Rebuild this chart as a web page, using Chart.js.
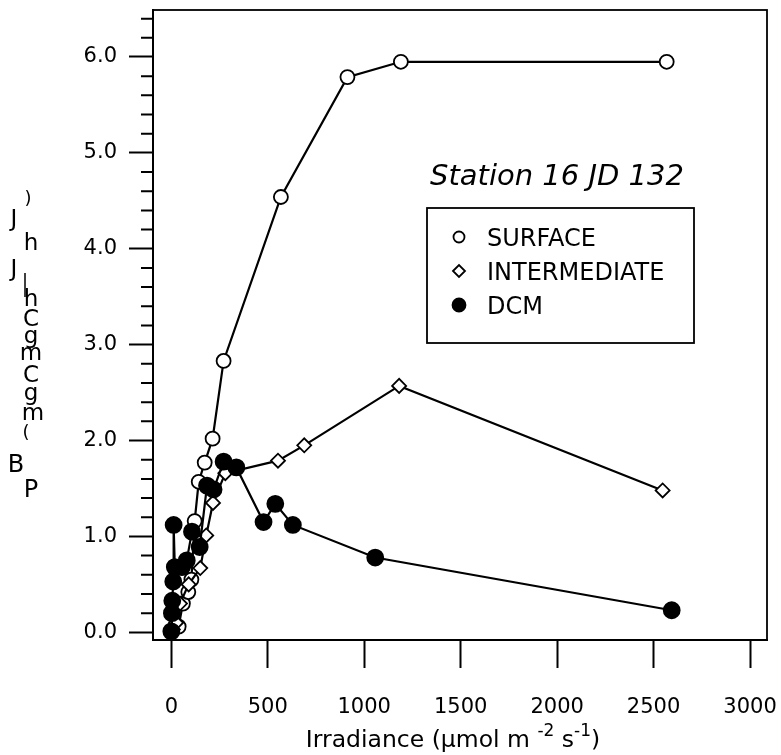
<!DOCTYPE html>
<html>
<head>
<meta charset="utf-8">
<script src="https://cdn.jsdelivr.net/npm/chart.js@4.4.1/dist/chart.umd.min.js"></script>
<style>
  html, body { margin: 0; background: #fff; }
  canvas { display: block; }
</style>
</head>
<body>
<canvas id="pe" width="781" height="755"></canvas>
<script>
// P vs E curves, station 16, JD 132
const surfaceIrr = [5, 38, 60, 88, 104, 121, 142, 173, 214, 271, 568, 913, 1190, 2568];
const surfaceP   = [0.02, 0.06, 0.30, 0.42, 0.55, 1.16, 1.57, 1.77, 2.02, 2.83, 4.54, 5.79, 5.95, 5.95];

const interIrr = [8, 25, 45, 90, 150, 181, 216, 280, 553, 689, 1181, 2547];
const interP   = [0.03, 0.10, 0.30, 0.50, 0.67, 1.01, 1.35, 1.66, 1.79, 1.95, 2.57, 1.48];

const dcmIrr = [0, 3, 5, 10, 12, 18, 55, 80, 107, 147, 185, 219, 271, 337, 478, 539, 630, 1057, 2594];
const dcmP   = [0.01, 0.20, 0.33, 0.53, 1.12, 0.68, 0.68, 0.75, 1.05, 0.89, 1.53, 1.49, 1.78, 1.72, 1.15, 1.34, 1.12, 0.78, 0.23];

const xTicks = [0, 500, 1000, 1500, 2000, 2500, 3000];
const yTicks = [0, 1, 2, 3, 4, 5, 6];
const yMinor = [0.2, 0.4, 0.6, 0.8, 1.2, 1.4, 1.6, 1.8, 2.2, 2.4, 2.6, 2.8, 3.2, 3.4, 3.6, 3.8,
                4.2, 4.4, 4.6, 4.8, 5.2, 5.4, 5.6, 5.8, 6.2, 6.4];

const FONT = '"DejaVu Sans", sans-serif';
const pairs = (xs, ys) => xs.map((x, i) => ({ x, y: ys[i] }));

// box around the plot and the short unlabelled ticks on the y axis
const frame = {
  id: 'frame',
  beforeDatasetsDraw(chart) {
    const { ctx, chartArea: a, scales: { y } } = chart;
    ctx.save();
    ctx.strokeStyle = '#000';
    ctx.lineWidth = 1.8;
    ctx.strokeRect(a.left, a.top, a.right - a.left, a.bottom - a.top);
    ctx.lineWidth = 2;
    ctx.beginPath();
    yMinor.forEach(v => {
      const py = y.getPixelForValue(v);
      ctx.moveTo(a.left - 12, py);
      ctx.lineTo(a.left, py);
    });
    ctx.stroke();
    ctx.restore();
  }
};

// station title, boxed legend and axis titles
const labels = {
  id: 'labels',
  afterDraw(chart) {
    const { ctx } = chart;
    ctx.save();
    ctx.fillStyle = '#000';
    ctx.textBaseline = 'alphabetic';

    ctx.font = 'italic 29px ' + FONT;
    ctx.fillText('Station 16 JD 132', 430, 185);

    // legend
    ctx.strokeStyle = '#000';
    ctx.lineWidth = 1.8;
    ctx.strokeRect(427, 208, 267, 135);
    ctx.font = '24px ' + FONT;
    chart.data.datasets.forEach((ds, i) => {
      const cy = 237 + i * 34;
      ctx.save();
      ctx.fillStyle = ds.pointBackgroundColor;
      ctx.strokeStyle = '#000';
      ctx.lineWidth = 1.8;
      Chart.helpers.drawPoint(ctx, { pointStyle: ds.pointStyle, radius: ds.legendRadius, borderWidth: 1.8, rotation: 0 }, 459, cy);
      ctx.restore();
      ctx.fillText(ds.label, 487, cy + 9);
    });

    // x title with superscripts
    const parts = [
      ['Irradiance (\u00b5mol m ', 0], ['-2', 1], [' s', 0], ['-1', 1], [')', 0]
    ];
    const big = '23.5px ' + FONT, small = '17px ' + FONT;
    let w = 0;
    parts.forEach(([t, s]) => { ctx.font = s ? small : big; w += ctx.measureText(t).width; });
    let x = 453 - w / 2;
    parts.forEach(([t, s]) => {
      ctx.font = s ? small : big;
      ctx.fillText(t, x, s ? 736 : 747);
      x += ctx.measureText(t).width;
    });

    // y title, set as upright stacked glyphs
    const glyphs = [
      [')', 28, 204, 18], ['J', 14, 226, 23], ['h', 31, 250, 23], ['J', 14, 276, 23],
      ['h', 31, 306, 23], ['C', 31, 326, 23], ['g', 31, 343, 23], ['m', 31, 360, 23],
      ['C', 31, 382, 23], ['g', 31, 400, 23], ['m', 33, 420, 23], ['(', 26, 438, 18],
      ['B', 16, 472, 24], ['P', 31, 497, 24]
    ];
    ctx.textAlign = 'center';
    glyphs.forEach(([t, gx, gy, fs]) => {
      ctx.font = fs + 'px ' + FONT;
      ctx.fillText(t, gx, gy);
    });
    ctx.lineWidth = 1.5;
    ctx.beginPath();
    ctx.moveTo(25, 273);
    ctx.lineTo(25, 297);
    ctx.stroke();
    ctx.restore();
  }
};

const series = (label, xs, ys, style, radius, fill, legendRadius, order) => ({
  label, data: pairs(xs, ys), showLine: true,
  borderColor: '#000', borderWidth: 2.2, pointStyle: style, pointRadius: radius,
  pointBackgroundColor: fill, pointBorderColor: '#000', pointBorderWidth: 1.8,
  legendRadius, order
});

new Chart(document.getElementById('pe'), {
  type: 'scatter',
  data: {
    datasets: [
      series('SURFACE', surfaceIrr, surfaceP, 'circle', 7, '#fff', 5.5, 2),
      series('INTERMEDIATE', interIrr, interP, 'rectRot', 7, '#fff', 6, 1),
      series('DCM', dcmIrr, dcmP, 'circle', 8, '#000', 6.5, 0)
    ]
  },
  options: {
    responsive: false,
    animation: false,
    layout: { padding: { left: 0, right: 14, top: 10, bottom: 0 } },
    plugins: { legend: { display: false }, tooltip: { enabled: false } },
    scales: {
      x: {
        type: 'linear', min: -95, max: 3088,
        afterBuildTicks: s => { s.ticks = xTicks.map(v => ({ value: v })); },
        afterFit: s => { s.height = 115; s.paddingLeft = 0; s.paddingRight = 0; },
        border: { display: true, color: '#000', width: 2 },
        grid: { drawOnChartArea: false, drawTicks: true, tickLength: 28, tickWidth: 2, tickColor: '#000' },
        ticks: { color: '#000', font: { family: FONT, size: 21 }, padding: 27, maxRotation: 0, callback: v => String(v) }
      },
      y: {
        type: 'linear', min: -0.08, max: 6.49,
        afterBuildTicks: s => { s.ticks = yTicks.map(v => ({ value: v })); },
        afterFit: s => { s.width = 153; s.paddingTop = 0; s.paddingBottom = 0; },
        border: { display: true, color: '#000', width: 2 },
        grid: { drawOnChartArea: false, drawTicks: true, tickLength: 24, tickWidth: 2, tickColor: '#000' },
        ticks: { color: '#000', font: { family: FONT, size: 21 }, padding: 12, callback: v => v.toFixed(1) }
      }
    }
  },
  plugins: [frame, labels]
});
</script>
</body>
</html>
